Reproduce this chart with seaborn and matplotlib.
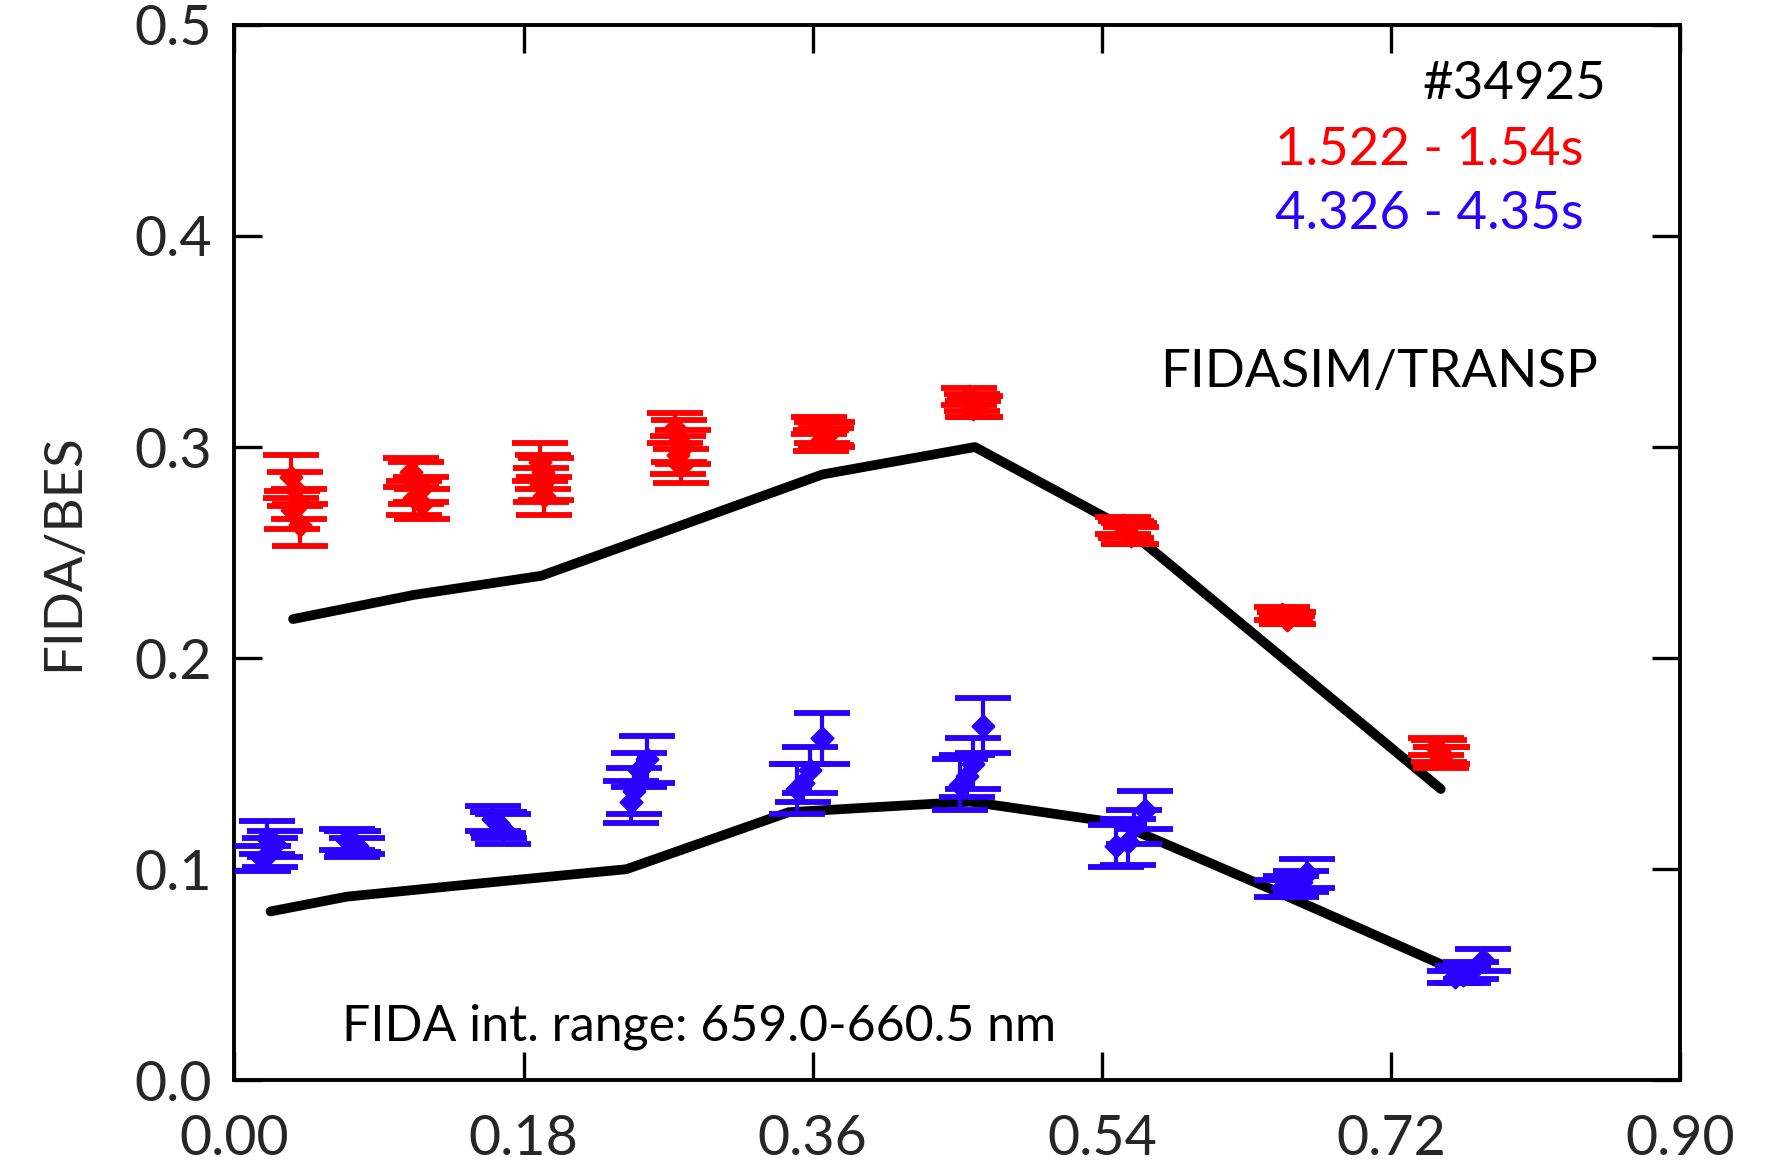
import numpy as np
import pandas as pd
import matplotlib
matplotlib.use("Agg")
import matplotlib.pyplot as plt
import seaborn as sns

# ---- measured FIDA/BES ratios, early time window (red) ----
red_x = [0.035, 0.038, 0.040, 0.036, 0.041,
         0.110, 0.113, 0.116, 0.112, 0.117,
         0.190, 0.192, 0.194, 0.191, 0.193,
         0.274, 0.277, 0.279, 0.276, 0.278,
         0.364, 0.366, 0.368, 0.365, 0.369,
         0.457, 0.459, 0.461, 0.460,
         0.553, 0.555, 0.557, 0.558,
         0.652, 0.654, 0.656, 0.655,
         0.748, 0.750, 0.752, 0.751]
red_y = [0.286, 0.280, 0.273, 0.270, 0.263,
         0.288, 0.283, 0.280, 0.276, 0.273,
         0.293, 0.288, 0.285, 0.282, 0.277,
         0.309, 0.303, 0.300, 0.296, 0.291,
         0.310, 0.307, 0.305, 0.303, 0.306,
         0.324, 0.321, 0.319, 0.318,
         0.263, 0.261, 0.259, 0.258,
         0.221, 0.220, 0.219, 0.218,
         0.158, 0.156, 0.154, 0.153]
red_err = [0.010, 0.008, 0.007, 0.009, 0.010,
           0.007, 0.010, 0.006, 0.008, 0.007,
           0.009, 0.008, 0.010, 0.008, 0.009,
           0.007, 0.010, 0.008, 0.009, 0.008,
           0.004, 0.005, 0.004, 0.005, 0.006,
           0.004, 0.004, 0.005, 0.004,
           0.004, 0.004, 0.005, 0.004,
           0.003, 0.002, 0.003, 0.002,
           0.004, 0.005, 0.004, 0.005]

# ---- measured FIDA/BES ratios, late time window (blue) ----
blue_x = [0.018, 0.022, 0.025, 0.020,
          0.070, 0.073, 0.076, 0.074,
          0.161, 0.164, 0.167, 0.165,
          0.257, 0.252, 0.249, 0.247,
          0.366, 0.358, 0.350, 0.354,
          0.466, 0.460, 0.452, 0.456,
          0.567, 0.556, 0.549, 0.560,
          0.668, 0.664, 0.658, 0.652,
          0.777, 0.770, 0.765, 0.760]
blue_y = [0.105, 0.108, 0.112, 0.115,
          0.114, 0.112, 0.111, 0.113,
          0.124, 0.122, 0.119, 0.121,
          0.152, 0.147, 0.137, 0.132,
          0.162, 0.147, 0.138, 0.141,
          0.168, 0.150, 0.140, 0.144,
          0.128, 0.113, 0.111, 0.120,
          0.098, 0.094, 0.092, 0.091,
          0.057, 0.052, 0.050, 0.049]
blue_err = [0.006, 0.007, 0.006, 0.008,
            0.005, 0.006, 0.004, 0.005,
            0.006, 0.005, 0.007, 0.006,
            0.011, 0.008, 0.011, 0.010,
            0.012, 0.011, 0.012, 0.009,
            0.013, 0.012, 0.012, 0.010,
            0.009, 0.011, 0.010, 0.008,
            0.007, 0.005, 0.005, 0.004,
            0.005, 0.004, 0.004, 0.003]

# ---- FIDASIM/TRANSP synthetic profiles ----
sim_red_x = [0.0365, 0.112, 0.191, 0.275, 0.366, 0.461, 0.556, 0.751]
sim_red_y = [0.2185, 0.230, 0.239, 0.262, 0.287, 0.300, 0.261, 0.138]
sim_blue_x = [0.0225, 0.070, 0.149, 0.244, 0.345, 0.458, 0.549, 0.647, 0.760]
sim_blue_y = [0.080, 0.087, 0.093, 0.100, 0.127, 0.132, 0.122, 0.090, 0.052]

x_ticks = [0.00, 0.18, 0.36, 0.54, 0.72, 0.90]
y_ticks = [0.0, 0.1, 0.2, 0.3, 0.4, 0.5]

RED = "#ff0000"
BLUE = "#2a00ff"

sns.set_theme(style="ticks")
plt.rcParams["font.family"] = ["Lato", "DejaVu Sans"]

fig = plt.figure(figsize=(17.68, 11.67), dpi=100)
ax = fig.add_axes([0.1326, 0.0743, 0.8177, 0.9044])

sim = pd.concat([
    pd.DataFrame({"x": sim_red_x, "y": sim_red_y, "run": "early"}),
    pd.DataFrame({"x": sim_blue_x, "y": sim_blue_y, "run": "late"}),
])
sns.lineplot(data=sim, x="x", y="y", units="run", estimator=None,
             color="black", linewidth=7, sort=False, ax=ax, zorder=2)

for xs, ys, es, col in [(red_x, red_y, red_err, RED),
                        (blue_x, blue_y, blue_err, BLUE)]:
    ax.errorbar(xs, ys, yerr=es, fmt="none", ecolor=col, elinewidth=3,
                capsize=20, capthick=4.2, zorder=3)
    sns.scatterplot(x=xs, y=ys, marker="D", s=120, color=col,
                    edgecolor=col, linewidth=1.8, ax=ax, zorder=4)

ax.set_xlim(0.0, 0.90)
ax.set_ylim(0.0, 0.5)
ax.set_xticks(x_ticks)
ax.set_xticklabels([f"{v:.2f}" for v in x_ticks])
ax.set_yticks(y_ticks)
ax.set_yticklabels([f"{v:.1f}" for v in y_ticks])
ax.tick_params(axis="both", which="major", direction="in", length=20,
               width=2.4, color="black", labelsize=40, top=True, right=True)
ax.tick_params(axis="x", pad=24)
ax.tick_params(axis="y", pad=16)
for sp in ax.spines.values():
    sp.set_visible(True)
    sp.set_linewidth(2.8)
    sp.set_color("black")

ax.set_xlabel("")
ax.set_ylabel("FIDA/BES", fontsize=38, labelpad=34)

ax.text(0.854, 0.4717, "#34925", fontsize=38, color="black",
        ha="right", va="center")
ax.text(0.840, 0.4407, "1.522 - 1.54s", fontsize=38, color=RED,
        ha="right", va="center")
ax.text(0.840, 0.410, "4.326 - 4.35s", fontsize=38, color=BLUE,
        ha="right", va="center")
ax.text(0.849, 0.3355, "FIDASIM/TRANSP", fontsize=38, color="black",
        ha="right", va="center")
ax.text(0.0667, 0.0256, "FIDA int. range: 659.0-660.5 nm", fontsize=36,
        color="black", ha="left", va="center")

fig.savefig("out.png", dpi=100, facecolor="white")
